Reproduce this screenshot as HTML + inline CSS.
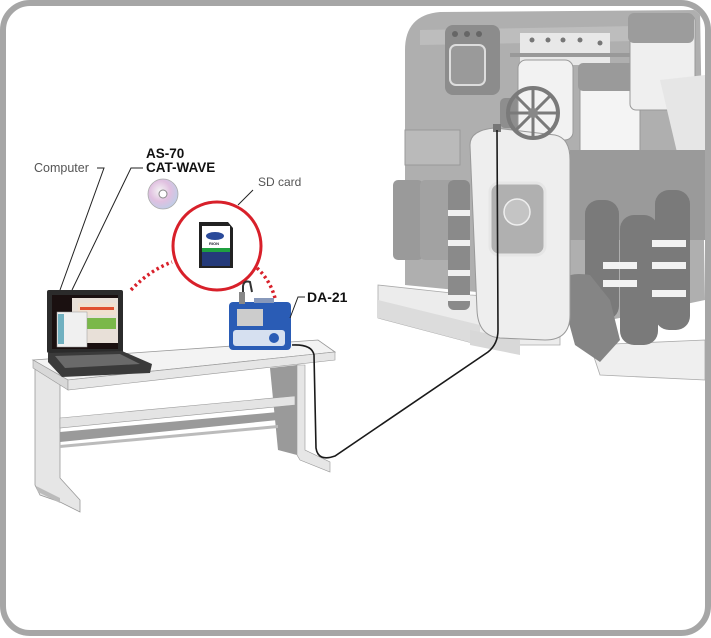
<!DOCTYPE html>
<html><head><meta charset="utf-8"><style>
html,body{margin:0;padding:0;background:#fff;}
svg{display:block;}
text{font-family:"Liberation Sans",sans-serif;}
</style></head><body>
<svg width="711" height="638" viewBox="0 0 711 638" xmlns="http://www.w3.org/2000/svg">
<defs>
<clipPath id="fr"><rect x="6" y="6" width="699" height="624" rx="24"/></clipPath>
<radialGradient id="cd" cx="0.4" cy="0.4" r="0.7"><stop offset="0" stop-color="#f4f4f4"/><stop offset="0.5" stop-color="#e0c0e0"/><stop offset="1" stop-color="#b8d0e8"/></radialGradient>
</defs>
<rect width="711" height="638" fill="#fff"/>
<g clip-path="url(#fr)">
<!-- machine base slabs -->
<polygon points="378,285 470,295 560,300 560,345 480,345 378,318" fill="#ececec" stroke="#aaa" stroke-width="0.8"/>
<polygon points="378,300 480,325 480,345 378,318" fill="#dcdcdc"/>
<polygon points="470,330 520,340 520,355 470,345" fill="#d8d8d8"/>
<polygon points="590,345 705,340 705,380 600,375" fill="#efefef" stroke="#aaa" stroke-width="0.8"/>
<!-- back body -->
<path d="M405,50 Q405,15 440,12 L700,10 L705,300 L610,320 L560,300 L405,285 Z" fill="#afafaf"/>
<path d="M420,30 L690,25 L690,40 L420,45 Z" fill="#bdbdbd"/>
<rect x="405" y="130" width="55" height="35" fill="#bababa" stroke="#999"/>
<!-- panel left -->
<rect x="445" y="25" width="55" height="70" rx="8" fill="#8c8c8c"/>
<rect x="450" y="45" width="35" height="40" rx="6" fill="#9a9a9a" stroke="#ddd" stroke-width="2"/>
<circle cx="455" cy="34" r="3" fill="#666"/><circle cx="467" cy="34" r="3" fill="#666"/><circle cx="479" cy="34" r="3" fill="#666"/>
<rect x="500" y="98" width="35" height="30" rx="5" fill="#8e8e8e"/>
<!-- white panel top -->
<path d="M520,33 L610,33 L610,65 L520,65 Z" fill="#e8e8e8"/>
<circle cx="532" cy="40" r="2.5" fill="#777"/><circle cx="548" cy="40" r="2.5" fill="#777"/><circle cx="563" cy="40" r="2.5" fill="#777"/><circle cx="580" cy="40" r="2.5" fill="#777"/><circle cx="600" cy="43" r="2.5" fill="#777"/>
<rect x="510" y="53" width="130" height="4" fill="#999"/>
<!-- cylinders -->
<rect x="518" y="60" width="55" height="80" rx="8" fill="#f2f2f2" stroke="#999"/>
<rect x="580" y="65" width="60" height="100" rx="6" fill="#f4f4f4" stroke="#999"/>
<rect x="578" y="63" width="62" height="28" rx="5" fill="#9a9a9a"/>
<rect x="630" y="15" width="65" height="95" rx="6" fill="#efefef" stroke="#999"/>
<rect x="628" y="13" width="66" height="30" rx="6" fill="#9c9c9c"/>
<path d="M660,80 L705,75 L705,160 L680,165 Z" fill="#e6e6e6"/>
<!-- left towers -->
<rect x="393" y="180" width="30" height="80" rx="5" fill="#9a9a9a"/>
<rect x="420" y="180" width="35" height="80" rx="5" fill="#a2a2a2"/>
<!-- bellows left -->
<rect x="448" y="180" width="22" height="130" rx="6" fill="#8a8a8a"/>
<g fill="#f0f0f0"><rect x="448" y="210" width="22" height="6"/><rect x="448" y="240" width="22" height="6"/><rect x="448" y="270" width="22" height="6"/><rect x="448" y="295" width="22" height="6"/></g>
<!-- pipes right -->
<rect x="570" y="150" width="135" height="90" fill="#9a9a9a"/>
<g fill="#7a7a7a"><rect x="585" y="200" width="34" height="120" rx="14"/><rect x="620" y="215" width="38" height="130" rx="14"/><rect x="655" y="190" width="35" height="140" rx="14"/></g>
<g fill="#f2f2f2"><rect x="603" y="262" width="34" height="7"/><rect x="603" y="280" width="34" height="7"/><rect x="652" y="240" width="34" height="7"/><rect x="652" y="262" width="34" height="7"/><rect x="652" y="290" width="34" height="7"/></g>
<path d="M560,290 Q560,270 590,275 L610,300 L620,340 L600,362 L575,345 Z" fill="#858585"/>
<!-- cover -->
<path d="M470,145 Q470,130 495,128 L555,135 Q570,138 570,160 L570,315 Q570,340 545,340 L500,338 Q478,336 477,310 Z" fill="#eeeeee" stroke="#999" stroke-width="1"/>
<rect x="490" y="183" width="55" height="72" rx="9" fill="#b0b0b0" stroke="#e6e6e6" stroke-width="3"/>
<circle cx="517" cy="212" r="13" fill="#c4c4c4" stroke="#eee" stroke-width="1.5"/>
<!-- wheel -->
<circle cx="533" cy="113" r="25" fill="none" stroke="#7a7a7a" stroke-width="4"/>
<g stroke="#7a7a7a" stroke-width="3"><line x1="533" y1="88" x2="533" y2="138"/><line x1="508" y1="113" x2="558" y2="113"/><line x1="515" y1="95" x2="551" y2="131"/><line x1="551" y1="95" x2="515" y2="131"/></g>
<circle cx="533" cy="113" r="5" fill="#888"/>
<rect x="493" y="124" width="8" height="8" fill="#777"/>
</g>
<!-- frame -->
<rect x="3" y="3" width="705" height="630" rx="27" fill="none" stroke="#a6a6a6" stroke-width="6"/>

<!-- table -->
<polygon points="35,367 60,372 60,478 80,500 80,512 60,502 40,495 35,485" fill="#e6e6e6" stroke="#999" stroke-width="0.8"/>
<polygon points="36,486 60,498 60,503 38,492" fill="#bbb"/>
<polygon points="270,368 297,365 297,455 278,450" fill="#9a9a9a"/>
<polygon points="297,365 305,365 305,450 330,462 330,472 300,460 297,455" fill="#e6e6e6" stroke="#999" stroke-width="0.6"/>
<polygon points="60,418 295,396 295,405 60,428" fill="#e4e4e4" stroke="#999" stroke-width="0.6"/>
<polygon points="60,432 278,412 278,420 60,442" fill="#9a9a9a"/>
<polygon points="60,445 278,425 278,428 60,448" fill="#bbb"/>
<polygon points="33,360 318,340 335,352 68,380" fill="#f3f3f3" stroke="#999" stroke-width="0.8"/>
<polygon points="33,360 68,380 68,390 33,368" fill="#d8d8d8" stroke="#999" stroke-width="0.6"/>
<polygon points="68,380 335,352 335,360 68,390" fill="#e6e6e6" stroke="#999" stroke-width="0.6"/>
<!-- laptop -->
<rect x="47" y="290" width="76" height="63" rx="2" fill="#2b2b2b"/>
<rect x="52" y="295" width="66" height="54" fill="#1a1010"/>
<rect x="72" y="298" width="46" height="45" fill="#e8e0d8"/>
<rect x="78" y="303" width="38" height="12" fill="#f0e0d0"/>
<rect x="80" y="307" width="34" height="3" fill="#e05030"/>
<rect x="78" y="318" width="38" height="11" fill="#7ab84a"/>
<rect x="57" y="312" width="30" height="35" fill="#f0f0f0" stroke="#999" stroke-width="0.5"/>
<rect x="58" y="314" width="6" height="30" fill="#70b0c0"/>
<polygon points="48,353 122,351 152,364 150,373 62,377 48,362" fill="#3a3a3a"/>
<polygon points="55,356 120,354 140,364 65,368" fill="#6a6a6a"/>
<!-- dotted links -->
<path d="M131,290 Q150,270 172,262" fill="none" stroke="#d8202a" stroke-width="3.5" stroke-dasharray="2.5,3"/>
<path d="M257,268 Q270,280 275,298" fill="none" stroke="#d8202a" stroke-width="3.5" stroke-dasharray="2.5,3"/>
<!-- SD circle -->
<circle cx="217" cy="246" r="44" fill="#fff" stroke="#d8202a" stroke-width="3"/>
<path d="M199,222 L228,222 L233,228 L233,268 L199,268 Z" fill="#222"/>
<rect x="202" y="226" width="28" height="22" fill="#fff"/>
<rect x="202" y="248" width="28" height="4" fill="#1fa040"/>
<rect x="202" y="252" width="28" height="14" fill="#243a7a"/>
<ellipse cx="215" cy="236" rx="9" ry="4" fill="#2a4a9a"/>
<text x="209" y="245" font-size="4" font-weight="bold" fill="#223">RION</text>
<!-- CD -->
<circle cx="163" cy="194" r="15" fill="url(#cd)" stroke="#aaa" stroke-width="0.8"/>
<circle cx="163" cy="194" r="4" fill="#fff" stroke="#888"/>
<!-- DA-21 -->
<path d="M243,298 L243,286 Q244,280 250,282 L252,292" fill="none" stroke="#333" stroke-width="2"/>
<rect x="229" y="302" width="62" height="48" rx="4" fill="#2a5cb5"/>
<rect x="239" y="292" width="6" height="12" fill="#888"/>
<rect x="254" y="298" width="20" height="5" fill="#8899bb"/>
<rect x="237" y="309" width="26" height="17" fill="#ccc"/>
<rect x="233" y="330" width="52" height="16" rx="3" fill="#d6e0f0"/>
<circle cx="274" cy="338" r="5" fill="#2a5cb5"/>
<!-- cable -->
<path d="M292,345 Q312,344 314,355 L316,448 Q318,462 335,456 L488,352 Q498,344 498,330 L497,130" fill="none" stroke="#1a1a1a" stroke-width="1.6"/>
<!-- leaders -->
<polyline points="97,168 104,168 60,290" fill="none" stroke="#222" stroke-width="1"/>
<polyline points="143,168 131,168 72,290" fill="none" stroke="#222" stroke-width="1"/>
<line x1="253" y1="190" x2="238" y2="205" stroke="#222" stroke-width="1"/>
<polyline points="305,297 298,297 290,318" fill="none" stroke="#222" stroke-width="1"/>
<!-- labels -->
<text x="34" y="172" font-size="12.5" fill="#555">Computer</text>
<text x="146" y="158" font-size="13.5" font-weight="bold" fill="#111">AS-70</text>
<text x="146" y="172" font-size="13.5" font-weight="bold" fill="#111">CAT-WAVE</text>
<text x="258" y="186" font-size="12" fill="#555">SD card</text>
<text x="307" y="302" font-size="14" font-weight="bold" fill="#111">DA-21</text>
</svg>
</body></html>
